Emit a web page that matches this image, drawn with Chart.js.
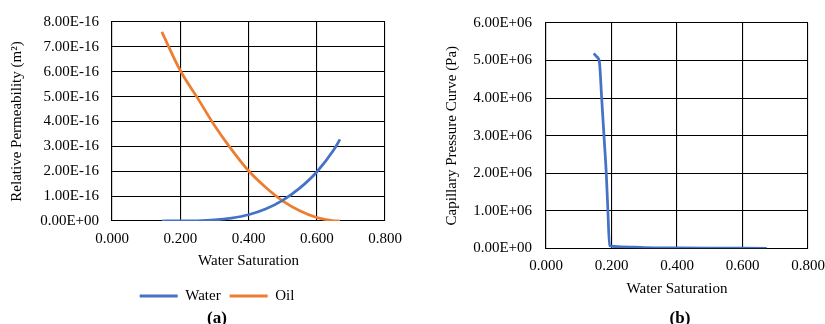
<!DOCTYPE html>
<html>
<head>
<meta charset="utf-8">
<script src="https://cdn.jsdelivr.net/npm/chart.js@4.4.1/dist/chart.umd.min.js"></script>
<style>
  html, body { margin: 0; padding: 0; background: #fff; overflow: hidden; width: 825px; height: 324px; }
  canvas { position: absolute; top: 0; }
  #permChart { left: 0; }
  #pcChart { left: 420px; }
</style>
</head>
<body>
<canvas id="permChart" width="434" height="324"></canvas>
<canvas id="pcChart" width="520" height="324"></canvas>
<script>
// Relative permeability data (a)
const permSat = [0.146, 0.20, 0.25, 0.30, 0.35, 0.40, 0.45, 0.50, 0.55, 0.60, 0.65, 0.668];
const waterPerm = [0, 1e-19, 1.0e-18, 4.2e-18, 1.17e-17, 2.5e-17, 4.8e-17, 8.3e-17, 1.32e-16, 1.97e-16, 2.86e-16, 3.28e-16];
const oilPerm = [7.6e-16, 6.05e-16, 4.96e-16, 3.85e-16, 2.88e-16, 2.02e-16, 1.36e-16, 8.1e-17, 4.1e-17, 1.4e-17, 1e-18, 0];

// Capillary pressure data (b)
const pcSat = [0.146, 0.155, 0.163, 0.170, 0.177, 0.184, 0.189, 0.194, 0.23, 0.30, 0.40, 0.50, 0.60, 0.674];
const pcValues = [5.19e6, 5.10e6, 4.96e6, 4.0e6, 3.0e6, 2.0e6, 1.0e6, 7e4, 4e4, 2e4, 1e4, 5e3, 2e3, 0];

// Axis ranges: [min, max, step]
const satRange = [0, 0.8, 0.2];
const permRange = [0, 8e-16, 1e-16];
const pcRange = [0, 6e6, 1e6];

const FONT = '"Liberation Serif", "Times New Roman", serif';
const BLUE = '#4472C4';
const ORANGE = '#ED7D31';

// 8.00E-16 style labels
function sci(v) {
  const parts = Number(v).toExponential(2).split('e');
  const sign = parts[1][0];
  const digits = parts[1].slice(1).padStart(2, '0');
  return parts[0] + 'E' + sign + digits;
}

function points(xs, ys) {
  return xs.map((x, i) => ({ x: x, y: ys[i] }));
}

function line(label, xs, ys, color) {
  return {
    label: label,
    data: points(xs, ys),
    showLine: true,
    borderColor: color,
    backgroundColor: color,
    borderWidth: 2.75,
    pointRadius: 0,
    cubicInterpolationMode: 'monotone'
  };
}

// shared scale builder; widths fixed so plot areas line up with the figure
function scales(opt) {
  const gridStyle = { color: '#000', lineWidth: 1.1, drawTicks: false };
  return {
    x: {
      type: 'linear',
      min: satRange[0], max: satRange[1],
      grid: gridStyle,
      border: { color: '#000', width: 1.1 },
      ticks: {
        stepSize: satRange[2], padding: 9, color: '#000',
        font: { family: FONT, size: 15 },
        callback: v => Number(v).toFixed(3)
      },
      title: {
        display: true, text: 'Water Saturation', color: '#000',
        font: { family: FONT, size: 15 },
        padding: { top: 0, bottom: opt.xTitlePad }
      },
      afterFit: s => { s.height = opt.xHeight; }
    },
    y: {
      type: 'linear',
      min: opt.yRange[0], max: opt.yRange[1],
      grid: gridStyle,
      border: { color: '#000', width: 1.1 },
      ticks: {
        stepSize: opt.yRange[2], padding: opt.yTickPad, color: '#000',
        font: { family: FONT, size: 15 },
        callback: v => sci(v)
      },
      title: {
        display: true, text: opt.yTitle, color: '#000',
        font: { family: FONT, size: 15 },
        padding: { top: opt.yTitlePad, bottom: 0 }
      },
      afterFit: s => { s.width = opt.yWidth; }
    },
    spacer: {
      type: 'linear', axis: 'y', position: 'right', display: true,
      grid: { display: false }, border: { display: false }, ticks: { display: false },
      afterFit: s => { s.width = opt.rightWidth; }
    }
  };
}

// (a) relative permeability
new Chart(document.getElementById('permChart'), {
  type: 'scatter',
  data: {
    datasets: [
      line('Water', permSat, waterPerm, BLUE),
      line('Oil', permSat, oilPerm, ORANGE)
    ]
  },
  options: {
    responsive: false,
    animation: false,
    layout: { padding: { top: 18, bottom: -3.5, left: 0, right: 0 } },
    scales: scales({
      yRange: permRange, yTitle: 'Relative Permeability (m²)',
      yWidth: 112, rightWidth: 49, xHeight: 58.5,
      xTitlePad: 9, yTitlePad: 8, yTickPad: 13
    }),
    plugins: {
      legend: {
        display: true, position: 'bottom',
        labels: {
          color: '#000', font: { family: FONT, size: 15 },
          boxWidth: 38, boxHeight: 3, padding: 9,
          generateLabels: chart => chart.data.datasets.map((d, i) => ({
            text: d.label, fillStyle: d.borderColor, strokeStyle: d.borderColor,
            lineWidth: 0, datasetIndex: i, fontColor: '#000'
          }))
        }
      },
      title: {
        display: true, position: 'bottom', text: '(a)', color: '#000',
        font: { family: FONT, size: 17, weight: 'bold', lineHeight: 1 },
        padding: { top: -3, bottom: 0 }
      },
      tooltip: { enabled: false }
    }
  }
});

// (b) capillary pressure
new Chart(document.getElementById('pcChart'), {
  type: 'scatter',
  data: {
    datasets: [line('Pc', pcSat, pcValues, BLUE)]
  },
  options: {
    responsive: false,
    animation: false,
    layout: { padding: { top: 23, bottom: -3.5, left: 0, right: 0 } },
    scales: scales({
      yRange: pcRange, yTitle: 'Capillary Pressure Curve (Pa)',
      yWidth: 126, rightWidth: 132, xHeight: 62.2,
      xTitlePad: 12, yTitlePad: 23, yTickPad: 14
    }),
    plugins: {
      legend: { display: false },
      title: {
        display: true, position: 'bottom', text: '(b)', color: '#000',
        font: { family: FONT, size: 17, weight: 'bold', lineHeight: 1 },
        padding: 0
      },
      tooltip: { enabled: false }
    }
  }
});
</script>
</body>
</html>
